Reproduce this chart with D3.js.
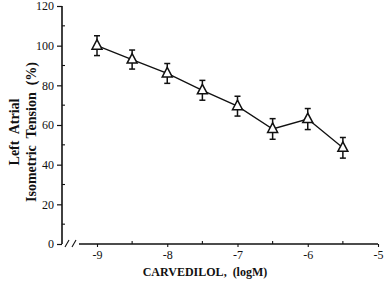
<!DOCTYPE html>
<html><head><meta charset="utf-8">
<script src="https://cdn.jsdelivr.net/npm/d3@7"></script>
<style>body{margin:0;background:#fff}svg{display:block}text{font-family:"Liberation Serif","Times New Roman",serif !important;fill:#111;white-space:pre}</style>
</head><body><svg id="c" width="387" height="285"></svg>
<script>
const logDose = [-9, -8.5, -8, -7.5, -7, -6.5, -6, -5.5];
const tension = [100, 93, 86, 77.5, 69.5, 58, 63, 48.5];
const sem = [5, 4.8, 5, 5, 5, 5.2, 5.3, 5.2];
const yTicks = [0, 20, 40, 60, 80, 100, 120];
const yMinor = [10, 30, 50, 70, 90, 110];
const xTicks = [-9, -8, -7, -6, -5];
const xMinor = [-8.5, -7.5, -6.5, -5.5];

const svg = d3.select("#c");
const x = d3.scaleLinear().domain([-9, -5]).range([97, 378]);
const y = d3.scaleLinear().domain([0, 120]).range([244, 6]);
const ink = "#111";

// y axis
const ya = svg.append("g").attr("transform", "translate(62,0)")
  .call(d3.axisLeft(y).tickValues(yTicks).tickSize(5).tickPadding(3).tickFormat(d => String(d)));
ya.attr("font-family", null);
ya.select(".domain").attr("stroke", ink).attr("stroke-width", 1.6).attr("d", `M0,${y(120)}V${y(0)}`);
ya.selectAll(".tick line").attr("stroke", ink).attr("stroke-width", 1.2);
ya.selectAll(".tick text").attr("font-size", 12);
svg.append("g").selectAll("line").data(yMinor).join("line")
  .attr("x1", 62).attr("x2", 65).attr("y1", d => y(d)).attr("y2", d => y(d))
  .attr("stroke", ink).attr("stroke-width", 1.1);

// x axis
const xa = svg.append("g").attr("transform", `translate(0,${y(0)})`)
  .call(d3.axisBottom(x).tickValues(xTicks).tickSize(3).tickPadding(3).tickFormat(d => String(d)));
xa.attr("font-family", null);
xa.select(".domain").attr("stroke", ink).attr("stroke-width", 1.6).attr("d", `M79,0H${x(-5)}`);
xa.selectAll(".tick line").attr("stroke", ink).attr("stroke-width", 1.1);
xa.selectAll(".tick text").attr("font-size", 12);
svg.append("g").selectAll("line").data(xMinor).join("line")
  .attr("x1", d => x(d)).attr("x2", d => x(d)).attr("y1", y(0)).attr("y2", y(0) - 3)
  .attr("stroke", ink).attr("stroke-width", 1.1);

// axis break marks
[67, 74].forEach(bx => svg.append("line").attr("x1", bx - 2).attr("x2", bx + 2)
  .attr("y1", y(0) + 3).attr("y2", y(0) - 4).attr("stroke", ink).attr("stroke-width", 1.1));

// line
const pts = logDose.map((d, i) => ({x: d, y: tension[i], e: sem[i]}));
svg.append("path").datum(pts)
  .attr("d", d3.line().x(d => x(d.x)).y(d => y(d.y)))
  .attr("fill", "none").attr("stroke", ink).attr("stroke-width", 1.3);

// error bars
const eb = svg.append("g").attr("stroke", ink).attr("stroke-width", 1.5);
pts.forEach(p => {
  const cx = x(p.x);
  eb.append("line").attr("x1", cx).attr("x2", cx).attr("y1", y(p.y + p.e)).attr("y2", y(p.y - p.e));
  [p.y + p.e, p.y - p.e].forEach(v => eb.append("line").attr("x1", cx - 3).attr("x2", cx + 3).attr("y1", y(v)).attr("y2", y(v)));
});

// triangle markers
svg.append("g").selectAll("path").data(pts).join("path")
  .attr("transform", d => `translate(${x(d.x)},${y(d.y)})`)
  .attr("d", "M0,-6L5,3.5L-5,3.5Z")
  .attr("fill", "#fff").attr("stroke", ink).attr("stroke-width", 1.5);

// titles
svg.append("text").attr("x", 205).attr("y", 276).attr("text-anchor", "middle")
  .attr("font-size", 12).attr("font-weight", "bold").text("CARVEDILOL,  (logM)");
const yt = svg.append("text").attr("transform", "translate(0,132) rotate(-90)")
  .attr("text-anchor", "middle").attr("font-size", 14).attr("font-weight", "bold");
yt.append("tspan").attr("x", 0).attr("y", 19).text("Left  Atrial");
yt.append("tspan").attr("x", 0).attr("y", 36).text("Isometric  Tension  (%)");
</script></body></html>
